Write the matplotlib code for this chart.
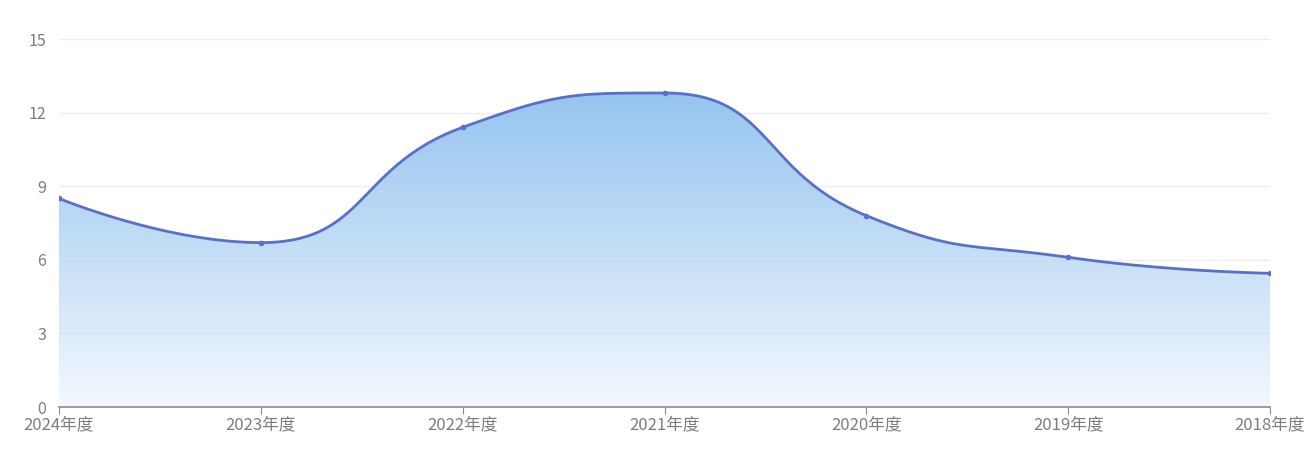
import numpy as np
import matplotlib
matplotlib.use("Agg")
import matplotlib.pyplot as plt
from matplotlib.colors import LinearSegmentedColormap

plt.rcParams['font.family'] = ['Noto Sans CJK SC', 'DejaVu Sans']

categories = ["2024年度", "2023年度", "2022年度", "2021年度", "2020年度", "2019年度", "2018年度"]
values = [8.5, 6.7, 11.4, 12.8, 7.8, 6.1, 5.45]
y_ticks = [0, 3, 6, 9, 12, 15]

LINE_COLOR = "#5b6fc8"
TOP_COLOR = "#95c4ef"
BOTTOM_COLOR = "#f3f8fe"

fig = plt.figure(figsize=(13.14, 4.58), dpi=100)
ax = fig.add_axes([59/1314, 51/458, (1270-59)/1314, (407-39)/458])
ax.set_xlim(0, len(categories) - 1)
ax.set_ylim(0, 15)
fig.canvas.draw()


def smooth_curve(xs, ys, smooth=0.5, n=60):
    # ECharts-like smooth bezier, computed in pixel space
    pts = ax.transData.transform(np.column_stack([xs, ys]))
    P = [np.array(p, dtype=float) for p in pts]
    N = len(P)
    cp_in = [None] * N
    cp_out = [None] * N
    for i in range(N):
        x, y = P[i]
        if i == 0 or i == N - 1:
            cp_in[i] = P[i].copy()
            cp_out[i] = P[i].copy()
            continue
        px, py = P[i - 1]
        nx, ny = P[i + 1]
        vx, vy = nx - px, ny - py
        d0 = np.hypot(x - px, y - py)
        d1 = np.hypot(nx - x, ny - y)
        r = d1 / (d0 + d1)
        ncx = x + vx * smooth * r
        ncy = y + vy * smooth * r
        ncx = min(ncx, max(nx, x)); ncx = max(ncx, min(nx, x))
        ncy = min(ncy, max(ny, y)); ncy = max(ncy, min(ny, y))
        vx, vy = ncx - x, ncy - y
        c0x = x - vx * d0 / d1
        c0y = y - vy * d0 / d1
        c0x = min(c0x, max(px, x)); c0x = max(c0x, min(px, x))
        c0y = min(c0y, max(py, y)); c0y = max(c0y, min(py, y))
        vx, vy = x - c0x, y - c0y
        ncx = x + vx * d1 / d0
        ncy = y + vy * d1 / d0
        cp_in[i] = np.array([c0x, c0y])
        cp_out[i] = np.array([ncx, ncy])
    t = np.linspace(0, 1, n)[:, None]
    segs = []
    for i in range(N - 1):
        p0, p1, p2, p3 = P[i], cp_out[i], cp_in[i + 1], P[i + 1]
        b = ((1 - t) ** 3) * p0 + 3 * ((1 - t) ** 2) * t * p1 + 3 * (1 - t) * t ** 2 * p2 + t ** 3 * p3
        segs.append(b if i == 0 else b[1:])
    curve = np.vstack(segs)
    return ax.transData.inverted().transform(curve)


xs = np.arange(len(categories))
curve = smooth_curve(xs, np.array(values))

# gradient fill
cmap = LinearSegmentedColormap.from_list("g", [BOTTOM_COLOR, TOP_COLOR])
ymax = max(values)
grad = np.linspace(0, 1, 256).reshape(-1, 1)
im = ax.imshow(grad, cmap=cmap, aspect="auto", origin="lower",
               extent=[0, len(categories) - 1, 0, ymax], zorder=2)
poly_xy = np.vstack([[curve[0, 0], 0], curve, [curve[-1, 0], 0]])
poly = plt.Polygon(poly_xy, closed=True, facecolor="none", edgecolor="none",
                   transform=ax.transData)
ax.add_patch(poly)
im.set_clip_path(poly)

# grid (drawn over the fill, faint)
for yt in y_ticks[1:]:
    ax.axhline(yt, color="#c8d0dc", lw=1, alpha=0.35, zorder=3)

ax.plot(curve[:, 0], curve[:, 1], color=LINE_COLOR, lw=2, zorder=4,
        solid_capstyle="round")
ax.plot(xs, values, "o", color=LINE_COLOR, ms=3, zorder=5)

ax.set_xlim(0, len(categories) - 1)
ax.set_ylim(0, 15)

for s in ["top", "right", "left"]:
    ax.spines[s].set_visible(False)
ax.spines["bottom"].set_color("#8c8c8c")
ax.spines["bottom"].set_linewidth(1.2)
ax.spines["bottom"].set_zorder(6)

ax.set_xticks(xs)
ax.set_xticklabels(categories)
ax.set_yticks(y_ticks)
ax.set_yticklabels([str(v) for v in y_ticks])
ax.tick_params(axis="x", length=5, color="#8c8c8c", labelsize=12,
               labelcolor="#7d7d7d", pad=2)
ax.tick_params(axis="y", length=0, labelsize=11.5, labelcolor="#7d7d7d", pad=9)

fig.savefig("out.png", dpi=100, facecolor="white")
